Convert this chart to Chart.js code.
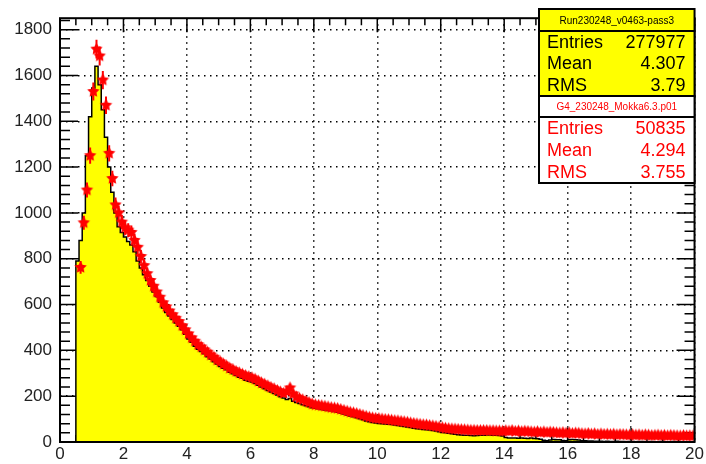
<!DOCTYPE html>
<html lang="en">
<head>
    <meta charset="UTF-8">
    <title>Run230248 vs G4</title>
    <script src="https://cdn.jsdelivr.net/npm/chart.js"></script>
    <style>
        html, body { margin: 0; padding: 0; background: #fff; }
        canvas { display: block; }
    </style>
</head>
<body>
<canvas id="histChart" width="706" height="464"></canvas>
<script>
    // binning: 200 bins of 0.1 between 0 and 20
    const binWidth = 0.1;
    const xTicks = [0, 2, 4, 6, 8, 10, 12, 14, 16, 18, 20];
    const yTicks = [0, 200, 400, 600, 800, 1000, 1200, 1400, 1600, 1800];
    const xMinorStep = 0.5;
    const yMinorStep = 40;

    // run data (yellow filled histogram), one entry per bin
    const runCounts = [
        0, 0, 0, 0, 0, 790, 880, 1000, 1250, 1420,
        1545, 1640, 1560, 1450, 1330, 1200, 1090, 1000, 940, 915,
        895, 875, 860, 830, 790, 760, 730, 705, 680, 655,
        635, 610, 585, 565, 550, 535, 520, 505, 490, 470,
        450, 435, 418, 405, 395, 385, 372, 362, 350, 340,
        330, 322, 315, 305, 298, 290, 283, 278, 270, 265,
        262, 255, 248, 240, 232, 225, 218, 212, 205, 198,
        192, 185, 190, 178, 172, 168, 163, 158, 154, 150,
        147, 145, 142, 140, 138, 136, 133, 130, 127, 122,
        118, 114, 110, 106, 102, 97, 92, 88, 85, 83,
        81, 80, 79, 77, 76, 74, 72, 70, 68, 66,
        63, 60, 58, 57, 55, 53, 52, 50, 48, 45,
        42, 40, 38, 36, 34, 32, 31, 30, 29, 28,
        27, 28, 29, 30, 31, 31, 30, 29, 28, 26,
        20, 18, 17, 17, 16, 17, 16, 15, 17, 15,
        14, 12, 8, 6, 9, 11, 10, 10, 7, 5,
        10, 11, 10, 9, 6, 5, 4, 4, 3, 3,
        3, 2, 3, 2, 2, 3, 2, 2, 1, 2,
        2, 1, 2, 2, 1, 1, 2, 1, 1, 2,
        1, 1, 1, 2, 1, 1, 1, 1, 1, 1
    ];

    // simulation (red points), normalised to the run
    const simCounts = [
        null, null, null, null, null, null, 762, 957, 1100, 1250,
        1530, 1715, 1685, 1580, 1470, 1260, 1150, 1035, 1000, 960,
        935, 925, 915, 880, 850, 810, 770, 735, 705, 680,
        655, 632, 608, 590, 572, 556, 540, 526, 508, 490,
        472, 455, 440, 425, 415, 402, 392, 380, 370, 358,
        350, 340, 332, 322, 316, 308, 302, 296, 290, 285,
        280, 274, 266, 258, 252, 245, 238, 232, 225, 218,
        212, 220, 236, 210, 196, 190, 184, 178, 172, 166,
        162, 160, 158, 156, 153, 150, 148, 146, 142, 138,
        134, 130, 127, 124, 120, 116, 112, 108, 105, 103,
        102, 100, 98, 97, 95, 93, 92, 90, 88, 86,
        83, 81, 79, 77, 75, 74, 72, 70, 68, 65,
        62, 60, 58, 57, 56, 55, 54, 53, 52, 51,
        51, 50, 50, 50, 50, 49, 49, 48, 48, 47,
        49, 47, 50, 46, 48, 45, 47, 46, 44, 43,
        45, 42, 44, 41, 43, 42, 40, 39, 41, 38,
        40, 37, 39, 38, 36, 35, 37, 34, 36, 33,
        35, 33, 34, 32, 34, 31, 33, 32, 31, 30,
        32, 30, 31, 29, 31, 30, 28, 29, 30, 28,
        29, 27, 29, 28, 27, 26, 28, 26, 27, 26
    ];
    const simWeight = 1;

    const runStats = { title: 'Run230248_v0463-pass3', rows: [['Entries', '277977'], ['Mean', '4.307'], ['RMS', '3.79']] };
    const simStats = { title: 'G4_230248_Mokka6.3.p01', rows: [['Entries', '50835'], ['Mean', '4.294'], ['RMS', '3.755']] };

    const fontFamily = '"Liberation Sans", Arial, Helvetica, sans-serif';

    // step outline: one point per lower bin edge plus the closing edge
    const runLine = runCounts.map((v, i) => ({ x: +(i * binWidth).toFixed(2), y: v }));
    runLine.push({ x: +(runCounts.length * binWidth).toFixed(2), y: runCounts[runCounts.length - 1] });

    const simPoints = [];
    simCounts.forEach((v, i) => {
        if (v !== null) simPoints.push({ x: +((i + 0.5) * binWidth).toFixed(3), y: v });
    });

    // filled five point star used as marker
    function makeStar(r, color) {
        const s = Math.ceil(r * 2 + 2);
        const c = document.createElement('canvas');
        c.width = s; c.height = s;
        const g = c.getContext('2d');
        g.fillStyle = color;
        g.beginPath();
        for (let k = 0; k < 10; k++) {
            const rad = k % 2 ? r * 0.5 : r;
            const a = -Math.PI / 2 + k * Math.PI / 5;
            const px = s / 2 + rad * Math.cos(a), py = s / 2 + rad * Math.sin(a);
            if (k === 0) g.moveTo(px, py); else g.lineTo(px, py);
        }
        g.closePath();
        g.fill();
        return c;
    }

    const axisPlugin = {
        id: 'rootAxes',
        beforeDatasetsDraw(chart) {
            const ctx = chart.ctx;
            const { left, right, top, bottom } = chart.chartArea;
            const xs = chart.scales.x, ys = chart.scales.y;
            ctx.save();
            ctx.strokeStyle = '#000';
            ctx.lineWidth = 1.5;
            ctx.beginPath();
            for (let k = 0; k * xMinorStep <= xs.max + 1e-6; k++) {
                const v = k * xMinorStep;
                const len = (k % 4 === 0) ? 14 : 7;
                const px = xs.getPixelForValue(v);
                ctx.moveTo(px, bottom); ctx.lineTo(px, bottom - len);
                ctx.moveTo(px, top); ctx.lineTo(px, top + len);
            }
            for (let k = 0; k * yMinorStep <= ys.max; k++) {
                const v = k * yMinorStep;
                const len = (k % 5 === 0) ? 18 : 10;
                const py = ys.getPixelForValue(v);
                ctx.moveTo(left, py); ctx.lineTo(left + len, py);
                ctx.moveTo(right, py); ctx.lineTo(right - len, py);
            }
            ctx.stroke();
            ctx.restore();
        },
        afterDatasetDraw(chart, args) {
            // error bars for the simulation, under its markers
            if (args.index !== 1) return;
            const ctx = chart.ctx;
            const xs = chart.scales.x, ys = chart.scales.y;
            ctx.save();
            ctx.strokeStyle = '#ff0000';
            ctx.lineWidth = 2;
            ctx.beginPath();
            simPoints.forEach(p => {
                const err = Math.sqrt(p.y * simWeight);
                const px = xs.getPixelForValue(p.x);
                ctx.moveTo(px, ys.getPixelForValue(p.y - err));
                ctx.lineTo(px, ys.getPixelForValue(p.y + err));
                const py = ys.getPixelForValue(p.y);
                ctx.moveTo(xs.getPixelForValue(p.x - binWidth / 2), py);
                ctx.lineTo(xs.getPixelForValue(p.x + binWidth / 2), py);
            });
            ctx.stroke();
            ctx.restore();
        },
        afterDatasetsDraw(chart) {
            const ctx = chart.ctx;
            const { left, right, top, bottom } = chart.chartArea;
            ctx.save();
            ctx.strokeStyle = '#000';
            ctx.lineWidth = 2;
            ctx.strokeRect(left, top, right - left, bottom - top);
            ctx.restore();
        },
        afterDraw(chart) {
            const ctx = chart.ctx;
            const right = chart.chartArea.right;
            const boxLeft = 539;
            drawStatBox(ctx, boxLeft, right, 9, 31, 96, runStats, '#ffff00', '#000');
            drawStatBox(ctx, boxLeft, right, 96, 117, 183, simStats, '#ffffff', '#ff0000');
        }
    };

    function drawStatBox(ctx, x0, x1, y0, yLine, y1, stats, fill, textColor) {
        ctx.save();
        ctx.fillStyle = fill;
        ctx.fillRect(x0, y0, x1 - x0, y1 - y0);
        ctx.strokeStyle = '#000';
        ctx.lineWidth = 2;
        ctx.strokeRect(x0, y0, x1 - x0, y1 - y0);
        ctx.beginPath();
        ctx.moveTo(x0, yLine); ctx.lineTo(x1, yLine);
        ctx.stroke();
        ctx.fillStyle = textColor;
        ctx.textBaseline = 'middle';
        ctx.font = '10px ' + fontFamily;
        ctx.textAlign = 'center';
        ctx.fillText(stats.title, (x0 + x1) / 2, (y0 + yLine) / 2 + 1);
        ctx.font = '18px ' + fontFamily;
        const rowH = (y1 - yLine) / stats.rows.length;
        stats.rows.forEach((r, i) => {
            const y = yLine + rowH * (i + 0.5) + 1;
            ctx.textAlign = 'left';
            ctx.fillText(r[0], x0 + 8, y);
            ctx.textAlign = 'right';
            ctx.fillText(r[1], x1 - 9, y);
        });
        ctx.restore();
    }

    const tickFont = { family: fontFamily, size: 17 };

    const ctx = document.getElementById('histChart').getContext('2d');
    new Chart(ctx, {
        type: 'scatter',
        data: {
            datasets: [{
                type: 'scatter',
                label: simStats.title,
                data: simPoints,
                order: 0,
                pointStyle: makeStar(6.5, '#ff0000'),
                pointRadius: 6,
                pointHoverRadius: 6,
                borderWidth: 0,
                backgroundColor: '#ff0000'
            }, {
                type: 'line',
                label: runStats.title,
                data: runLine,
                order: 1,
                // each value holds from its own edge up to the next one
                stepped: 'before',
                fill: 'origin',
                backgroundColor: '#ffff00',
                borderColor: '#000',
                borderWidth: 1.5,
                pointRadius: 0,
                tension: 0
            }]
        },
        options: {
            responsive: false,
            animation: false,
            devicePixelRatio: 1,
            events: [],
            layout: { padding: { top: 9, right: 9, left: 0, bottom: 0 } },
            plugins: { legend: { display: false }, tooltip: { enabled: false } },
            scales: {
                x: {
                    type: 'linear',
                    min: 0,
                    max: 20,
                    afterBuildTicks: s => { s.ticks = xTicks.map(v => ({ value: v })); },
                    afterFit: s => { s.height = 22; },
                    grid: { color: '#000', lineWidth: 1.5, drawTicks: false },
                    border: { display: false, dash: [1.5, 4.5] },
                    ticks: { padding: 2, autoSkip: false, maxRotation: 0, color: '#222', font: tickFont,
                             callback: v => String(v) }
                },
                y: {
                    type: 'linear',
                    min: 0,
                    max: 1850,
                    afterBuildTicks: s => { s.ticks = yTicks.map(v => ({ value: v })); },
                    afterFit: s => { s.width = 60; },
                    grid: { color: '#000', lineWidth: 1.5, drawTicks: false },
                    border: { display: false, dash: [1.5, 4.5] },
                    ticks: { padding: 8, color: '#222', font: tickFont, callback: v => String(v) }
                }
            }
        },
        plugins: [axisPlugin]
    });
</script>
</body>
</html>
